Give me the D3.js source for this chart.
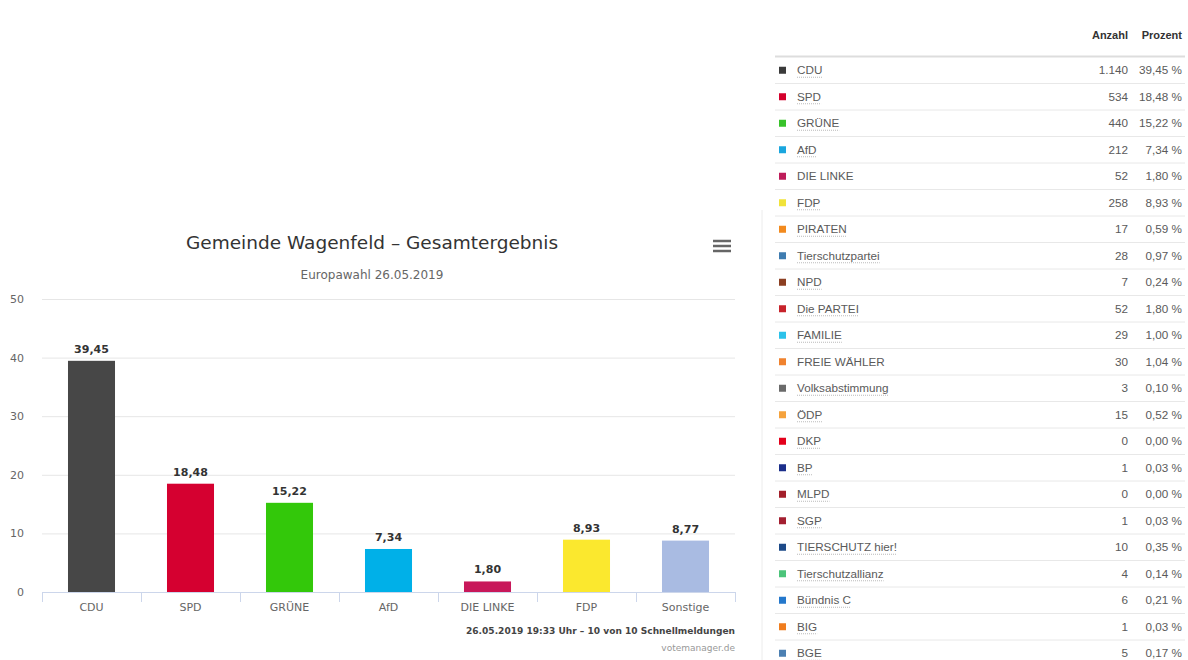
<!DOCTYPE html>
<html>
<head>
<meta charset="utf-8">
<script src="https://cdn.jsdelivr.net/npm/d3@7"></script>
<style>
  body { margin: 0; background: #fff; }
  svg { display: block; }
</style>
</head>
<body>
<div id="chart"></div>
<script>
// bar chart data
const parties = ['CDU', 'SPD', 'GRÜNE', 'AfD', 'DIE LINKE', 'FDP', 'Sonstige'];
const shares = [39.45, 18.48, 15.22, 7.34, 1.80, 8.93, 8.77];
const barColors = ['#474747', '#d50030', '#33c80a', '#00b0e8', '#c8185a', '#fbe82e', '#a9bbe2'];
const yTicks = [0, 10, 20, 30, 40, 50];

// table data
const tableNames = ['CDU', 'SPD', 'GRÜNE', 'AfD', 'DIE LINKE', 'FDP', 'PIRATEN', 'Tierschutzpartei', 'NPD', 'Die PARTEI',
        'FAMILIE', 'FREIE WÄHLER', 'Volksabstimmung', 'ÖDP', 'DKP', 'BP', 'MLPD', 'SGP', 'TIERSCHUTZ hier!',
        'Tierschutzallianz', 'Bündnis C', 'BIG', 'BGE'];
const tableCounts = [1140, 534, 440, 212, 52, 258, 17, 28, 7, 52, 29, 30, 3, 15, 0, 1, 0, 1, 10, 4, 6, 1, 5];
const tablePercents = [39.45, 18.48, 15.22, 7.34, 1.80, 8.93, 0.59, 0.97, 0.24, 1.80, 1.00, 1.04, 0.10, 0.52,
        0.00, 0.03, 0.00, 0.03, 0.35, 0.14, 0.21, 0.03, 0.17];
const tableColors = ['#3a3a3a', '#d4002c', '#38c22a', '#1aa6de', '#be1c5a', '#f1e33a', '#f28a1e', '#3f7cb0',
        '#8c3f22', '#c7232b', '#2cc2ea', '#f0822e', '#6a6a6a', '#f5a23c', '#e3001b', '#1b2e8a', '#a31f2a',
        '#a31f30', '#1d4a88', '#4cc47a', '#2478cc', '#f07d1e', '#4c80b2'];
const noLink = ['DIE LINKE', 'FREIE WÄHLER'];

const de = d3.formatLocale({ decimal: ',', thousands: '.', grouping: [3], currency: ['', '€'] });
const fmt2 = de.format('.2f');
const fmtInt = de.format(',d');

const svg = d3.select('#chart').append('svg')
        .attr('width', 1188)
        .attr('height', 660);

const chartFont = '"DejaVu Sans", sans-serif';
const tableFont = '"Liberation Sans", Arial, sans-serif';

// ---- chart ----
const x = d3.scaleBand().domain(parties).range([42, 735]).paddingInner(0.525).paddingOuter(0.2625);
const y = d3.scaleLinear().domain([0, 50]).range([592, 299]);

// divider between chart and table
svg.append('line')
        .attr('x1', 762).attr('x2', 762).attr('y1', 210).attr('y2', 660)
        .attr('stroke', '#ececec');

svg.append('text')
        .attr('x', 372).attr('y', 249)
        .attr('text-anchor', 'middle')
        .attr('font-family', chartFont).attr('font-size', 18.5)
        .attr('fill', '#333')
        .text('Gemeinde Wagenfeld – Gesamtergebnis');

svg.append('text')
        .attr('x', 372).attr('y', 279)
        .attr('text-anchor', 'middle')
        .attr('font-family', chartFont).attr('font-size', 12)
        .attr('fill', '#666')
        .text('Europawahl 26.05.2019');

// menu icon
svg.append('g').selectAll('line').data([0, 5, 10]).join('line')
        .attr('x1', 713).attr('x2', 731)
        .attr('y1', d => 241 + d).attr('y2', d => 241 + d)
        .attr('stroke', '#666').attr('stroke-width', 2.5);

// grid
svg.append('g')
        .attr('transform', 'translate(42,0)')
        .call(d3.axisLeft(y).tickValues(yTicks).tickSize(-693).tickFormat(''))
        .call(g => g.select('.domain').remove())
        .call(g => g.selectAll('.tick line').attr('stroke', '#e6e6e6'));

svg.append('g').selectAll('text').data(yTicks).join('text')
        .attr('x', 24).attr('y', d => y(d) + 4)
        .attr('text-anchor', 'end')
        .attr('font-family', chartFont).attr('font-size', 11)
        .attr('fill', '#666')
        .text(d => d);

// bars
svg.append('g').selectAll('rect').data(parties).join('rect')
        .attr('x', d => x(d))
        .attr('y', (d, i) => y(shares[i]))
        .attr('width', x.bandwidth())
        .attr('height', (d, i) => y(0) - y(shares[i]))
        .attr('fill', (d, i) => barColors[i]);

svg.append('g').selectAll('text').data(parties).join('text')
        .attr('x', d => x(d) + x.bandwidth() / 2)
        .attr('y', (d, i) => y(shares[i]) - 8)
        .attr('text-anchor', 'middle')
        .attr('font-family', chartFont).attr('font-size', 11).attr('font-weight', 'bold')
        .attr('fill', '#333')
        .text((d, i) => fmt2(shares[i]));

// x axis
svg.append('line')
        .attr('x1', 42).attr('x2', 735).attr('y1', 592.5).attr('y2', 592.5)
        .attr('stroke', '#ccd6eb');

const boundaries = parties.map(d => x(d) - x.step() * x.paddingInner() / 2).concat([735]);
svg.append('g').selectAll('line').data(boundaries).join('line')
        .attr('x1', d => Math.round(d) + 0.5).attr('x2', d => Math.round(d) + 0.5)
        .attr('y1', 592).attr('y2', 602)
        .attr('stroke', '#ccd6eb');

svg.append('g').selectAll('text').data(parties).join('text')
        .attr('x', d => x(d) + x.bandwidth() / 2)
        .attr('y', 611)
        .attr('text-anchor', 'middle')
        .attr('font-family', chartFont).attr('font-size', 11)
        .attr('fill', '#666')
        .text(d => d);

svg.append('text')
        .attr('x', 735).attr('y', 634)
        .attr('text-anchor', 'end')
        .attr('font-family', chartFont).attr('font-size', 9).attr('font-weight', 'bold')
        .attr('fill', '#444')
        .attr('textLength', 269).attr('lengthAdjust', 'spacingAndGlyphs')
        .text('26.05.2019 19:33 Uhr – 10 von 10 Schnellmeldungen');

svg.append('text')
        .attr('x', 735).attr('y', 651)
        .attr('text-anchor', 'end')
        .attr('font-family', chartFont).attr('font-size', 9)
        .attr('fill', '#999')
        .text('votemanager.de');

// ---- table ----
const row = d3.scaleBand().domain(tableNames).range([57, 57 + 23 * 26.5]);
const tbl = svg.append('g').attr('font-family', tableFont).attr('font-size', 11.7);

tbl.append('text').attr('x', 1128).attr('y', 39).attr('text-anchor', 'end')
        .attr('font-weight', 'bold').attr('font-size', 11).attr('fill', '#333').text('Anzahl');
tbl.append('text').attr('x', 1182).attr('y', 39).attr('text-anchor', 'end')
        .attr('font-weight', 'bold').attr('font-size', 11).attr('fill', '#333').text('Prozent');

tbl.append('line').attr('x1', 775).attr('x2', 1185).attr('y1', 56.5).attr('y2', 56.5)
        .attr('stroke', '#ddd').attr('stroke-width', 2);

const rows = tbl.selectAll('g.row').data(tableNames).join('g')
        .attr('class', 'row')
        .attr('transform', d => `translate(0,${row(d) + row.bandwidth() / 2})`);

rows.filter((d, i) => i < tableNames.length - 1).append('line')
        .attr('x1', 775).attr('x2', 1185)
        .attr('y1', row.bandwidth() / 2).attr('y2', row.bandwidth() / 2)
        .attr('stroke', '#e8e8e8');

rows.append('rect')
        .attr('x', 779).attr('y', -3.5)
        .attr('width', 7).attr('height', 7)
        .attr('fill', (d, i) => tableColors[i]);

rows.append('text')
        .attr('class', 'name')
        .attr('x', 797).attr('y', 4)
        .attr('fill', '#5a5a5a')
        .text(d => d);

rows.filter(d => !noLink.includes(d)).each(function () {
        const g = d3.select(this);
        const w = g.select('text.name').node().getComputedTextLength();
        g.append('line')
                .attr('x1', 797).attr('x2', 797 + w)
                .attr('y1', 7).attr('y2', 7)
                .attr('stroke', '#bbb').attr('stroke-dasharray', '1,1');
});

rows.append('text')
        .attr('x', 1128).attr('y', 4).attr('text-anchor', 'end')
        .attr('fill', '#5a5a5a')
        .text((d, i) => fmtInt(tableCounts[i]));

rows.append('text')
        .attr('x', 1182).attr('y', 4).attr('text-anchor', 'end')
        .attr('fill', '#5a5a5a')
        .text((d, i) => fmt2(tablePercents[i]) + ' %');
</script>
</body>
</html>
